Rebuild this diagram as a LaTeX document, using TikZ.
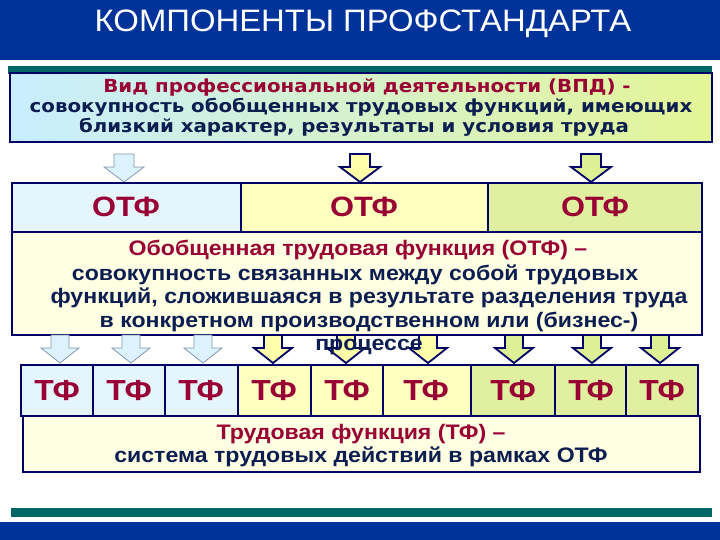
\documentclass[tikz,border=0pt]{standalone}
\usepackage{fontspec}
\setmainfont{Liberation Sans}
\newfontfamily\verd{DejaVu Sans}
\definecolor{titleblue}{RGB}{0,51,153}
\definecolor{tealbar}{RGB}{0,102,102}
\definecolor{navy}{RGB}{0,0,102}
\definecolor{txtred}{RGB}{153,0,51}
\definecolor{txtblue}{RGB}{12,30,80}
\definecolor{cblue}{RGB}{228,245,252}
\definecolor{cyel}{RGB}{255,255,192}
\definecolor{cgreen}{RGB}{224,240,160}
\definecolor{cream}{RGB}{255,255,228}
\definecolor{ablue}{RGB}{220,242,252}
\definecolor{aline}{RGB}{130,150,175}
\definecolor{ayel}{RGB}{255,255,170}
\definecolor{agreen}{RGB}{222,240,150}
\definecolor{gleft}{RGB}{200,238,255}
\definecolor{gmid}{RGB}{255,255,180}
\definecolor{gright}{RGB}{228,245,150}
\newcommand\blkarrow[7]{%
  \draw[#1] ({#2-#6},#3) -- ({#2+#6},#3) -- ({#2+#6},#4) -- ({#2+#7},#4) -- (#2,#5)
    -- ({#2-#7},#4) -- ({#2-#6},#4) -- cycle;}
\begin{document}
\begin{tikzpicture}[x=1pt,y=-1pt,
  box/.style={draw=navy, line width=1.6pt},
  wide/.style={xscale=1.1},
  otflbl/.style={wide, anchor=base, text=txtred, font=\bfseries\fontsize{28}{30}\selectfont},
  tflbl/.style={wide, anchor=base, text=txtred, font=\bfseries\fontsize{29}{30}\selectfont},
  vred/.style={wide, anchor=base, text=txtred, font=\verd\bfseries\fontsize{18}{20}\selectfont},
  vblue/.style={wide, anchor=base, text=txtblue, font=\verd\bfseries\fontsize{18}{20}\selectfont},
  dred/.style={wide, anchor=base, text=txtred, font=\bfseries\fontsize{21}{24}\selectfont},
  dblue/.style={wide, anchor=base, text=txtblue, font=\bfseries\fontsize{21}{24}\selectfont},
  arrblue/.style={fill=ablue, draw=aline, line width=0.8pt},
  arryel/.style={fill=ayel, draw=navy, line width=1.8pt, line join=miter},
  arrgreen/.style={fill=agreen, draw=navy, line width=1.8pt, line join=miter}]
\useasboundingbox (0,0) rectangle (720,540);
% title bar
\fill[titleblue] (0,0) rectangle (720,60);
\node[xscale=1.06, anchor=base, text=white, font=\fontsize{31}{34}\selectfont] (title) at (363,32) {КОМПОНЕНТЫ ПРОФСТАНДАРТА};
% VPD box
\fill[tealbar] (8,66) rectangle (712,74);
\shade[left color=gleft, middle color=gmid, right color=gright] (10,73) rectangle (712,142);
\draw[box, line width=1.2pt] (10,73) rectangle (712,142);
\node[vred] (v1) at (367,93) {Вид профессиональной деятельности (ВПД) -};
\node[vblue] (v2) at (361,113) {совокупность обобщенных трудовых функций, имеющих};
\node[vblue] (v3) at (354,133) {близкий характер, результаты и условия труда};
% arrows VPD -> OTF
\blkarrow{arrblue}{124}{154}{167}{182}{10}{20}
\blkarrow{arryel}{360}{154}{167}{182}{10}{20}
\blkarrow{arrgreen}{591}{154}{167}{182}{10}{20}
% OTF row
\fill[cblue] (12,183) rectangle (241,232);
\fill[cyel] (241,183) rectangle (488,232);
\fill[cgreen] (488,183) rectangle (702,232);
\draw[box] (12,183) rectangle (702,232);
\draw[box] (241,183) -- (241,232);
\draw[box] (488,183) -- (488,232);
\node[otflbl] (o1) at (126,216) {ОТФ};
\node[otflbl] (o2) at (364,216) {ОТФ};
\node[otflbl] (o3) at (595,216) {ОТФ};
% OTF definition
\fill[cream] (12,232) rectangle (702,335);
\draw[box] (12,232) rectangle (702,335);
% arrows OTF -> TF
\blkarrow{arrblue}{60}{335}{348}{363}{9}{19}
\blkarrow{arrblue}{131}{335}{348}{363}{9}{19}
\blkarrow{arrblue}{203}{335}{348}{363}{9}{19}
\blkarrow{arryel}{273}{335}{348}{363}{9}{19}
\blkarrow{arryel}{346}{335}{348}{363}{9}{19}
\blkarrow{arryel}{428}{335}{348}{363}{9}{19}
\blkarrow{arrgreen}{514}{335}{348}{363}{9}{19}
\blkarrow{arrgreen}{592}{335}{348}{363}{9}{19}
\blkarrow{arrgreen}{660}{335}{348}{363}{9}{19}
\node[dred] (d1) at (358,255) {Обобщенная трудовая функция (ОТФ) –};
\node[dblue] (d2) at (355,280) {совокупность связанных между собой трудовых};
\node[dblue] (d3) at (369,303) {функций, сложившаяся в результате разделения труда};
\node[dblue] (d4) at (369,327) {в конкретном производственном или (бизнес-)};
\node[dblue] (d5) at (369,350) {процессе};
% TF row
\fill[cblue] (21,365) rectangle (238,416);
\fill[cyel] (238,365) rectangle (471,416);
\fill[cgreen] (471,365) rectangle (698,416);
\draw[box] (21,365) rectangle (698,416);
\foreach \xx in {93,165,238,311,383,471,555,626} \draw[box] (\xx,365) -- (\xx,416);
\node[tflbl] (t1) at (57,400) {ТФ};
\node[tflbl] (t2) at (129,400) {ТФ};
\node[tflbl] (t3) at (201,400) {ТФ};
\node[tflbl] (t4) at (274,400) {ТФ};
\node[tflbl] (t5) at (347,400) {ТФ};
\node[tflbl] (t6) at (426,400) {ТФ};
\node[tflbl] (t7) at (513,400) {ТФ};
\node[tflbl] (t8) at (591,400) {ТФ};
\node[tflbl] (t9) at (662,400) {ТФ};
% TF definition
\fill[cream] (23,416) rectangle (700,472);
\draw[box] (23,416) rectangle (700,472);
\node[dred] (f1) at (361,439) {Трудовая функция (ТФ) –};
\node[dblue] (f2) at (361,462) {система трудовых действий в рамках ОТФ};
% bottom bars
\fill[tealbar] (11,508) rectangle (712,517);
\fill[titleblue] (0,522) rectangle (720,540);
\end{tikzpicture}
\end{document}
